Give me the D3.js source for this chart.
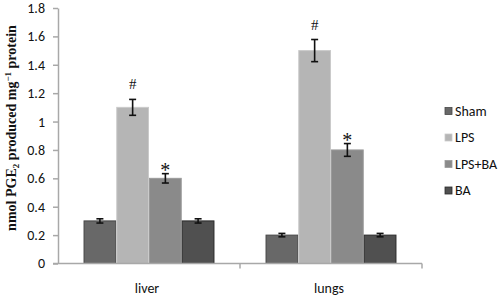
<!DOCTYPE html>
<html>
<head>
<meta charset="utf-8">
<script src="https://cdn.jsdelivr.net/npm/d3@7"></script>
<style>
  body { margin: 0; background: #fff; }
  text { font-family: Calibri, Carlito, "Liberation Sans", sans-serif; }
</style>
</head>
<body>
<svg id="chart" width="502" height="296"></svg>
<script>
let organs = ["liver", "lungs"],
  groups = ["Sham", "LPS", "LPS+BA", "BA"],
  liver = [0.3, 1.1, 0.6, 0.3],
  lungs = [0.2, 1.5, 0.8, 0.2],
  liver_err = [0.015, 0.056, 0.033, 0.015],
  lungs_err = [0.012, 0.078, 0.045, 0.012],
  liver_marks = ["", "#", "*", ""],
  lungs_marks = ["", "#", "*", ""],
  y_ticks = [0, 0.2, 0.4, 0.6, 0.8, 1, 1.2, 1.4, 1.6, 1.8];

let fills = ["#686868", "#b5b5b5", "#8a8a8a", "#505050"],
  strokes = ["#474747", "#cacaca", "#9a9a9a", "#2a2a2a"];

let rows = [];
organs.forEach((o, i) => {
  let vals = i == 0 ? liver : lungs,
    errs = i == 0 ? liver_err : lungs_err,
    marks = i == 0 ? liver_marks : lungs_marks;
  groups.forEach((g, j) => {
    rows.push({organ: o, group: g, value: vals[j], err: errs[j], mark: marks[j], k: j});
  });
});

let svg = d3.select("#chart");

let x = d3.scaleBand()
  .domain(organs)
  .range([58, 422]);

let xg = d3.scaleBand()
  .domain(groups)
  .range([0, x.bandwidth()])
  .paddingOuter(0.78)
  .paddingInner(0);

let y = d3.scaleLinear()
  .domain([0, 1.8])
  .range([263.5, 8]);

// y axis
let yAxis = svg.append("g")
  .attr("transform", "translate(58,0)")
  .call(d3.axisLeft(y).tickValues(y_ticks).tickSize(5).tickSizeOuter(0)
    .tickFormat(d => d3.format("")(+d.toFixed(1))));
yAxis.select(".domain").attr("stroke", "#a8a8a8").attr("stroke-width", 1.5);
yAxis.selectAll(".tick line").attr("stroke", "#a8a8a8").attr("stroke-width", 1.5);
yAxis.selectAll(".tick text")
  .attr("x", -13)
  .attr("font-size", 14)
  .attr("fill", "#111")
  .style("font-family", "Calibri, Carlito, 'Liberation Sans', sans-serif");

// bars
let bars = svg.append("g");
bars.selectAll("rect")
  .data(rows).enter()
  .append("rect")
  .attr("x", d => x(d.organ) + xg(d.group) + 0.5)
  .attr("y", d => y(d.value))
  .attr("width", xg.bandwidth() - 1)
  .attr("height", d => y(0) - y(d.value))
  .attr("fill", d => fills[d.k])
  .attr("stroke", d => strokes[d.k])
  .attr("stroke-width", 1);

// x axis
let xAxis = svg.append("g")
  .attr("transform", `translate(0,${y(0)})`);
xAxis.append("line")
  .attr("x1", 53).attr("x2", 422)
  .attr("stroke", "#a8a8a8").attr("stroke-width", 1.5);
xAxis.selectAll(".sep")
  .data([x.range()[0] + x.step(), x.range()[1]])
  .enter().append("line")
  .attr("x1", d => d).attr("x2", d => d)
  .attr("y1", 0).attr("y2", 5)
  .attr("stroke", "#a8a8a8").attr("stroke-width", 1.5);
xAxis.selectAll("text")
  .data(organs).enter()
  .append("text")
  .attr("x", d => x(d) + x.bandwidth() / 2 - 2)
  .attr("y", 29)
  .attr("text-anchor", "middle")
  .attr("font-size", 14)
  .attr("fill", "#111")
  .text(d => d);

// error bars
let eb = svg.append("g")
  .attr("stroke", "#111")
  .attr("stroke-width", 1.6);
rows.forEach(d => {
  let cx = x(d.organ) + xg(d.group) + xg.bandwidth() / 2;
  eb.append("line").attr("x1", cx).attr("x2", cx)
    .attr("y1", y(d.value + d.err)).attr("y2", y(d.value - d.err));
  eb.append("line").attr("x1", cx - 3.5).attr("x2", cx + 3.5)
    .attr("y1", y(d.value + d.err)).attr("y2", y(d.value + d.err));
  eb.append("line").attr("x1", cx - 3.5).attr("x2", cx + 3.5)
    .attr("y1", y(d.value - d.err)).attr("y2", y(d.value - d.err));
});

// significance marks
svg.append("g")
  .selectAll("text")
  .data(rows.filter(d => d.mark)).enter()
  .append("text")
  .attr("x", d => x(d.organ) + xg(d.group) + xg.bandwidth() / 2)
  .attr("y", d => y(d.value + d.err) - (d.mark == "#" ? 10 : -3))
  .attr("text-anchor", "middle")
  .attr("font-size", d => d.mark == "#" ? 15 : 20)
  .style("font-family", "'Liberation Serif', 'DejaVu Serif', serif")
  .attr("fill", "#111")
  .text(d => d.mark);

// y label
let ylab = svg.append("text")
  .attr("transform", "translate(16,128) rotate(-90)")
  .attr("text-anchor", "middle")
  .attr("font-size", 14)
  .attr("font-weight", "bold")
  .style("font-family", "'Liberation Serif', 'Times New Roman', serif")
  .attr("fill", "#111");
ylab.append("tspan").text("nmol PGE");
ylab.append("tspan").attr("font-size", 9).attr("dy", 3).text("2");
ylab.append("tspan").attr("dy", -3).text(" produced mg");
ylab.append("tspan").attr("font-size", 9).attr("dy", -5).text("−1");
ylab.append("tspan").attr("dy", 5).text(" protein");

// legend
let legend = svg.append("g")
  .selectAll("g")
  .data(groups).enter()
  .append("g")
  .attr("transform", (d, i) => `translate(445,${111 + i * 26.5})`);
legend.append("rect")
  .attr("x", 0).attr("y", -3.5)
  .attr("width", 7).attr("height", 7)
  .attr("fill", (d, i) => fills[i])
  .attr("stroke", (d, i) => strokes[i])
  .attr("stroke-width", 0.8);
legend.append("text")
  .attr("x", 10)
  .attr("y", 0)
  .attr("dy", "0.35em")
  .attr("font-size", 14)
  .attr("fill", "#111")
  .text(d => d);
</script>
</body>
</html>
